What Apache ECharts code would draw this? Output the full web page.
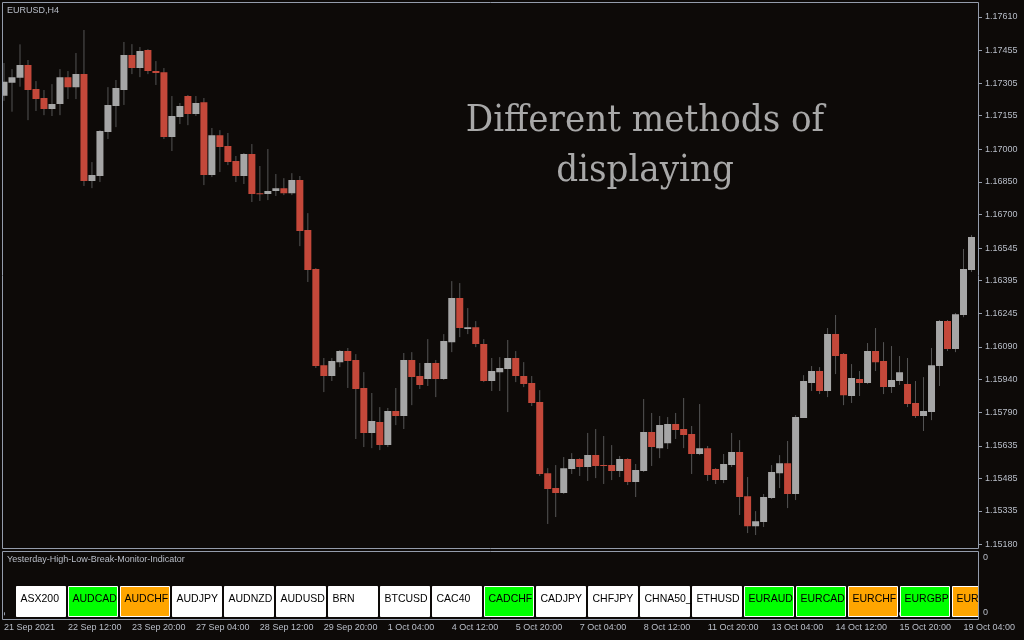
<!DOCTYPE html>
<html><head><meta charset="utf-8">
<script src="https://cdn.jsdelivr.net/npm/echarts@6/dist/echarts.min.js"></script>
<style>html,body{margin:0;padding:0;background:#0d0a08;}#c{width:1024px;height:640px;}</style>
</head><body><div id="c"></div>
<script>
// ---- data (EURUSD H4) ----
const opens = [
1.17246,1.17306,1.17329,1.17388,1.17277,1.17236,1.17185,1.17208,1.17332,1.17286,
1.17346,1.16854,1.16877,1.17079,1.17199,1.17273,1.17434,1.17374,1.17457,1.17360,
1.17355,1.17056,1.17148,1.17245,1.17162,1.17217,1.16881,1.17065,1.17015,1.16946,
1.16877,1.16978,1.16798,1.16794,1.16808,1.16821,1.16798,1.16858,1.16628,1.16449,
1.16006,1.15956,1.16020,1.16071,1.16030,1.15901,1.15694,1.15744,1.15638,1.15795,
1.15772,1.16030,1.15956,1.15942,1.16016,1.15942,1.16112,1.16315,1.16172,1.16181,
1.16103,1.15933,1.15974,1.15988,1.16039,1.15956,1.15924,1.15836,1.15509,1.15440,
1.15417,1.15528,1.15574,1.15537,1.15592,1.15546,1.15546,1.15519,1.15574,1.15468,
1.15519,1.15698,1.15624,1.15647,1.15735,1.15712,1.15689,1.15597,1.15624,1.15528,
1.15477,1.15546,1.15606,1.15403,1.15265,1.15284,1.15394,1.15509,1.15555,1.15413,
1.15763,1.15924,1.15979,1.15887,1.16149,1.16057,1.15864,1.15942,1.15924,1.16071,
1.16025,1.15905,1.15933,1.15919,1.15832,1.15772,1.15790,1.16002,1.16209,1.16080,
1.16237,1.16444];
const closes = [
1.17311,1.17332,1.17388,1.17273,1.17231,1.17185,1.17208,1.17332,1.17286,1.17346,
1.16854,1.16881,1.17084,1.17204,1.17282,1.17434,1.17374,1.17452,1.17360,1.17351,
1.17056,1.17153,1.17199,1.17162,1.17213,1.16881,1.17065,1.17010,1.16941,1.16877,
1.16978,1.16794,1.16794,1.16808,1.16821,1.16798,1.16858,1.16624,1.16444,1.16002,
1.15956,1.16025,1.16071,1.16025,1.15896,1.15694,1.15749,1.15638,1.15795,1.15772,
1.16030,1.15951,1.15915,1.16016,1.15942,1.16117,1.16315,1.16177,1.16181,1.16103,
1.15933,1.15979,1.15993,1.16039,1.15956,1.15919,1.15832,1.15505,1.15436,1.15417,
1.15532,1.15574,1.15537,1.15592,1.15542,1.15542,1.15519,1.15574,1.15468,1.15523,
1.15698,1.15629,1.15730,1.15735,1.15707,1.15684,1.15597,1.15624,1.15500,1.15477,
1.15551,1.15606,1.15399,1.15265,1.15288,1.15399,1.15514,1.15555,1.15413,1.15767,
1.15933,1.15979,1.15887,1.16149,1.16048,1.15868,1.15947,1.15924,1.16071,1.16020,
1.15905,1.15938,1.15974,1.15827,1.15772,1.15795,1.16006,1.16209,1.16080,1.16241,
1.16449,1.16596];
const lows = [
1.17223,1.17173,1.17288,1.17134,1.17176,1.17157,1.17153,1.17157,1.17231,1.17231,
1.16831,1.16821,1.16849,1.17047,1.17102,1.17204,1.17346,1.17332,1.17346,1.17296,
1.17047,1.16992,1.17116,1.17111,1.17153,1.16835,1.16872,1.16895,1.16927,1.16849,
1.16840,1.16757,1.16762,1.16766,1.16785,1.16789,1.16789,1.16554,1.16389,1.15993,
1.15882,1.15933,1.15997,1.15901,1.15666,1.15629,1.15624,1.15615,1.15629,1.15730,
1.15712,1.15822,1.15896,1.15910,1.15859,1.15938,1.16066,1.16135,1.16149,1.16089,
1.15928,1.15887,1.15887,1.15790,1.15928,1.15905,1.15818,1.15496,1.15275,1.15307,
1.15413,1.15505,1.15496,1.15473,1.15486,1.15459,1.15477,1.15491,1.15454,1.15399,
1.15514,1.15542,1.15578,1.15620,1.15666,1.15624,1.15505,1.15592,1.15473,1.15459,
1.15463,1.15537,1.15316,1.15233,1.15224,1.15261,1.15390,1.15440,1.15348,1.15385,
1.15763,1.15887,1.15873,1.15859,1.15965,1.15822,1.15832,1.15864,1.15919,1.15979,
1.15873,1.15878,1.15915,1.15813,1.15763,1.15703,1.15753,1.15910,1.16071,1.16066,
1.16227,1.16435];
const highs = [
1.17397,1.17369,1.17483,1.17411,1.17314,1.17273,1.17300,1.17369,1.17360,1.17443,
1.17549,1.16941,1.17088,1.17286,1.17319,1.17494,1.17484,1.17471,1.17461,1.17406,
1.17374,1.17245,1.17213,1.17250,1.17245,1.17236,1.17098,1.17088,1.17075,1.16969,
1.16983,1.17024,1.16923,1.17001,1.16886,1.16867,1.16890,1.16877,1.16706,1.16453,
1.16039,1.16039,1.16076,1.16085,1.16057,1.15974,1.15878,1.15813,1.15809,1.15901,
1.16062,1.16066,1.16016,1.16126,1.16030,1.16149,1.16393,1.16384,1.16269,1.16209,
1.16126,1.16039,1.16043,1.16122,1.16071,1.16020,1.15956,1.15891,1.15532,1.15546,
1.15583,1.15601,1.15578,1.15694,1.15712,1.15680,1.15638,1.15588,1.15578,1.15551,
1.15850,1.15786,1.15772,1.15767,1.15786,1.15855,1.15726,1.15827,1.15634,1.15532,
1.15597,1.15694,1.15661,1.15491,1.15334,1.15413,1.15546,1.15592,1.15657,1.15776,
1.15960,1.16002,1.15997,1.16177,1.16237,1.16062,1.16011,1.15979,1.16108,1.16177,
1.16112,1.16094,1.16048,1.16039,1.15933,1.15951,1.16085,1.16214,1.16214,1.16246,
1.16541,1.16605];

const xTickLabels = ['21 Sep 2021','22 Sep 12:00','23 Sep 20:00','27 Sep 04:00','28 Sep 12:00',
  '29 Sep 20:00','1 Oct 04:00','4 Oct 12:00','5 Oct 20:00','7 Oct 04:00','8 Oct 12:00',
  '11 Oct 20:00','13 Oct 04:00','14 Oct 12:00','15 Oct 20:00','19 Oct 04:00'];
const yTickLabels = ['1.17610','1.17455','1.17305','1.17155','1.17000','1.16850','1.16700',
  '1.16545','1.16395','1.16245','1.16090','1.15940','1.15790','1.15635','1.15485','1.15335','1.15180'];

const buttonNames = ['ASX200','AUDCAD','AUDCHF','AUDJPY','AUDNZD','AUDUSD','BRN','BTCUSD','CAC40',
  'CADCHF','CADJPY','CHFJPY','CHNA50_','ETHUSD','EURAUD','EURCAD','EURCHF','EURGBP','EURJPY'];
const buttonStates = ['none','high','low','none','none','none','none','none','none',
  'high','none','none','none','none','high','high','low','high','low'];

// ---- styles ----
const BG = '#0d0a08';
const FRAME = '#949cab';
const LABEL = '#b9bec8';
const BULL = '#a6a6a6';
const BEAR = '#c4483a';
const WICK = '#555555';
const stateColor = {none:'#ffffff', high:'#00ff00', low:'#ffa500'};

const N = opens.length;
const Y_MIN = 1.15162, Y_MAX = 1.17678;
const categories = opens.map((_, i) => i % 8 === 0 ? xTickLabels[i / 8] : 'b' + i);
const candleData = opens.map((o, i) => [i, o, closes[i], lows[i], highs[i]]);
const buttonData = buttonNames.map((n, i) => [i, 0]);
const yTickValues = yTickLabels.map(Number);

const chart = echarts.init(document.getElementById('c'), null, {renderer: 'canvas'});
const font = 'Liberation Sans';

chart.setOption({
  backgroundColor: BG,
  animation: false,
  tooltip: {show: false},
  grid: [
    {left: -0.5, top: 2, width: N * 8, height: 546.5},
    {left: -0.5, top: 551.5, width: N * 8, height: 68},
    {left: 16, top: 586, width: 961.5, height: 31}
  ],
  xAxis: [
    {type: 'category', gridIndex: 0, data: categories, boundaryGap: true, show: false},
    {type: 'category', gridIndex: 1, data: categories, boundaryGap: true,
      splitLine: {show: false},
      axisLine: {show: false},
      axisTick: {show: true, interval: 7, alignWithLabel: true, length: 3, lineStyle: {color: FRAME}},
      axisLabel: {interval: 7, align: 'left', margin: 4, color: LABEL, fontFamily: font, fontSize: 9,
        verticalAlign: 'top', hideOverlap: false}
    },
    {type: 'value', gridIndex: 2, min: 0, max: 961.5 / 52, show: false, splitLine: {show: false}}
  ],
  yAxis: [
    {type: 'value', gridIndex: 0, position: 'right', offset: 2.5, min: Y_MIN, max: Y_MAX,
      splitLine: {show: false}, axisLine: {show: false},
      axisTick: {show: true, length: 4, lineStyle: {color: FRAME}, customValues: yTickValues},
      axisLabel: {color: LABEL, fontFamily: font, fontSize: 9, margin: 7,
        customValues: yTickValues,
        formatter: v => v.toFixed(5)}
    },
    {type: 'value', gridIndex: 1, position: 'right', offset: 2.5, min: -0.13, max: 1.1,
      splitLine: {show: false}, axisLine: {show: false}, axisTick: {show: false},
      axisLabel: {color: LABEL, fontFamily: font, fontSize: 9, margin: 5,
        customValues: [0, 1], formatter: () => '0'}
    },
    {type: 'value', gridIndex: 2, min: 0, max: 1, show: false, splitLine: {show: false}}
  ],
  series: [
    {
      type: 'custom', xAxisIndex: 0, yAxisIndex: 0, data: candleData,
      encode: {x: 0, y: [1, 2, 3, 4]}, clip: true,
      renderItem: function (params, api) {
        const i = api.value(0), o = api.value(1), c = api.value(2), l = api.value(3), h = api.value(4);
        const pO = api.coord([i, o]), pC = api.coord([i, c]);
        const pL = api.coord([i, l]), pH = api.coord([i, h]);
        const w = api.size([1, 0])[0] * 0.875;
        const x = pO[0];
        const top = Math.min(pO[1], pC[1]);
        const hgt = Math.max(1, Math.abs(pO[1] - pC[1]));
        return {type: 'group', children: [
          {type: 'line', shape: {x1: x, y1: pH[1], x2: x, y2: pL[1]}, style: {stroke: WICK, lineWidth: 1}},
          {type: 'rect', shape: {x: x - w / 2, y: top, width: w, height: hgt}, style: {fill: c >= o ? BULL : BEAR}}
        ]};
      }
    },
    {
      type: 'custom', xAxisIndex: 2, yAxisIndex: 2, data: buttonData, clip: true,
      encode: {x: 0, y: 1},
      renderItem: function (params, api) {
        const i = api.value(0);
        const p0 = api.coord([i, 1]);
        const p1 = api.coord([i + 50 / 52, 0]);
        return {type: 'group', children: [
          {type: 'rect', shape: {x: p0[0] + 0.5, y: p0[1] + 0.5, width: p1[0] - p0[0] - 1, height: p1[1] - p0[1] - 1},
            style: {fill: stateColor[buttonStates[i]], stroke: '#ffffff', lineWidth: 1}},
          {type: 'text', x: p0[0] + 4.5, y: (p0[1] + p1[1]) / 2 - 2,
            style: {text: buttonNames[i], fill: '#000000', font: '10.5px "Liberation Sans", Arial', verticalAlign: 'middle', align: 'left'}}
        ]};
      }
    }
  ],
  graphic: [
    {type: 'rect', z: 100, shape: {x: 0, y: 0, width: 2, height: 640}, style: {fill: BG}},
    {type: 'rect', z: 101, shape: {x: 2.5, y: 2.5, width: 976, height: 546}, style: {fill: 'none', stroke: FRAME, lineWidth: 1}},
    {type: 'rect', z: 101, shape: {x: 2.5, y: 551.5, width: 976, height: 68}, style: {fill: 'none', stroke: FRAME, lineWidth: 1}},
    {type: 'text', z: 101, x: 7, y: 11, style: {text: 'EURUSD,H4', fill: LABEL, font: '9px "Liberation Sans"', verticalAlign: 'middle'}},
    {type: 'text', z: 101, x: 7, y: 560, style: {text: 'Yesterday-High-Low-Break-Monitor-Indicator', fill: LABEL, font: '9px "Liberation Sans"', verticalAlign: 'middle'}},
    {type: 'text', z: 101, x: 645, y: 121, style: {text: 'Different methods of', fill: '#a8a8a8', font: '38px "DejaVu Serif Condensed", "DejaVu Serif"', align: 'center', verticalAlign: 'middle'}},
    {type: 'text', z: 101, x: 645, y: 171, style: {text: 'displaying', fill: '#a8a8a8', font: '38px "DejaVu Serif Condensed", "DejaVu Serif"', align: 'center', verticalAlign: 'middle'}}
  ]
});
</script>
</body></html>
